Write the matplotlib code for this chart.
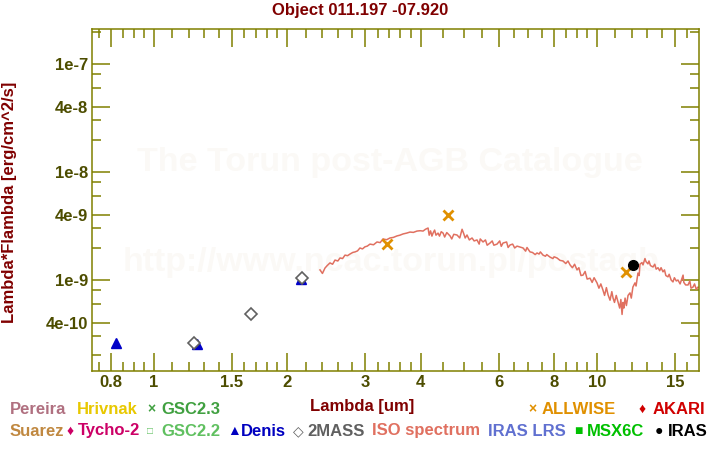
import matplotlib
matplotlib.use("Agg")
import matplotlib.pyplot as plt
from matplotlib.ticker import FixedLocator, FixedFormatter, NullFormatter

plt.rcParams['font.family'] = ['Liberation Sans', 'DejaVu Sans']
plt.rcParams['font.weight'] = 'bold'

# photometry (lambda in um, lambda*F_lambda in erg/cm^2/s)
denis_lam = [0.821, 1.251, 2.147]
denis_flux = [2.63e-10, 2.55e-10, 1.02e-9]
tmass_lam = [1.233, 1.659, 2.158]
tmass_flux = [2.59e-10, 4.81e-10, 1.05e-9]
allwise_lam = [3.363, 4.617, 11.65]
allwise_flux = [2.14e-9, 3.97e-9, 1.18e-9]
iras_lam = [12.08]
iras_flux = [1.37e-9]

# ISO spectrum (flux in units of 1e-9)
iso_lam = [2.370, 2.40, 2.432, 2.46, 2.496, 2.53, 2.562, 2.60, 2.630, 2.665,
           2.699, 2.735, 2.770, 2.81, 2.843, 2.88, 2.917, 2.955, 2.994, 3.03,
           3.073, 3.13, 3.187, 3.24, 3.287, 3.35, 3.409, 3.47, 3.536, 3.59,
           3.649, 3.72, 3.784, 3.85, 3.924, 3.99, 4.049, 4.10, 4.156, 4.18,
           4.21, 4.24, 4.265, 4.30, 4.33, 4.377, 4.41, 4.45, 4.493, 4.53,
           4.58, 4.659, 4.70, 4.75, 4.831, 4.90, 4.959, 5.00, 5.04, 5.088,
           5.15, 5.223, 5.28, 5.360, 5.42, 5.45, 5.530, 5.60, 5.65, 5.735,
           5.80, 5.85, 5.947, 6.03, 6.08, 6.135, 6.25, 6.30, 6.363, 6.45,
           6.52, 6.598, 6.70, 6.808, 6.90, 6.95, 7.060, 7.15, 7.25, 7.321,
           7.40, 7.45, 7.553, 7.65, 7.70, 7.833, 7.95, 8.00, 8.123, 8.25,
           8.381, 8.50, 8.60, 8.692, 8.80, 8.90, 9.014, 9.10, 9.20, 9.299,
           9.40, 9.50, 9.643, 9.75, 9.85, 10.00, 10.10, 10.20, 10.31, 10.40,
           10.50, 10.59, 10.70, 10.80, 10.87, 10.95, 11.05, 11.15, 11.25, 11.32,
           11.39, 11.45, 11.50, 11.57, 11.65, 11.75, 11.87, 11.95, 12.05, 12.18,
           12.25, 12.37, 12.45, 12.50, 12.63, 12.70, 12.83, 12.90, 13.03, 13.10,
           13.20, 13.38, 13.50, 13.60, 13.73, 13.85, 13.95, 14.09, 14.20, 14.30,
           14.46, 14.55, 14.70, 14.84, 14.95, 15.10, 15.23, 15.40, 15.64, 15.70,
           15.85, 16.05, 16.20, 16.30, 16.47, 16.60, 16.75, 16.90, 17.10]
iso_flux = [1.24, 1.15, 1.29, 1.36, 1.44, 1.40, 1.53, 1.50, 1.60, 1.58,
            1.70, 1.68, 1.74, 1.80, 1.82, 1.86, 1.98, 1.94, 2.03, 2.06,
            2.15, 2.12, 2.25, 2.22, 2.40, 2.36, 2.45, 2.48, 2.56, 2.60,
            2.67, 2.72, 2.78, 2.76, 2.84, 2.86, 2.84, 2.95, 3.03, 2.60,
            2.85, 2.55, 2.72, 2.90, 2.60, 2.72, 2.55, 2.80, 2.72, 2.50,
            2.75, 2.56, 2.40, 2.65, 2.61, 2.45, 2.95, 2.70, 2.45, 2.61,
            2.35, 2.45, 2.30, 2.35, 2.15, 2.40, 2.25, 2.35, 2.10, 2.20,
            2.30, 2.10, 2.15, 2.30, 2.05, 2.20, 2.25, 2.00, 2.11, 2.15,
            1.98, 2.06, 2.02, 1.98, 1.85, 2.00, 1.82, 1.80, 1.72, 1.78,
            1.74, 1.82, 1.70, 1.66, 1.72, 1.63, 1.58, 1.64, 1.60, 1.52,
            1.50, 1.42, 1.50, 1.38, 1.30, 1.40, 1.24, 1.30, 1.10, 1.11,
            1.20, 1.02, 1.04, 0.95, 1.05, 0.94, 0.84, 0.92, 0.81, 0.72,
            0.85, 0.73, 0.65, 0.78, 0.68, 0.62, 0.72, 0.63, 0.55, 0.66,
            0.48, 0.62, 0.55, 0.68, 0.58, 0.72, 0.76, 0.68, 0.86, 0.94,
            0.88, 1.16, 1.10, 1.40, 1.45, 1.38, 1.58, 1.48, 1.41, 1.50,
            1.36, 1.32, 1.40, 1.26, 1.30, 1.22, 1.30, 1.19, 1.24, 1.10,
            1.07, 1.13, 1.00, 0.96, 1.05, 0.98, 1.00, 0.92, 1.11, 0.95,
            0.90, 0.90, 0.98, 0.84, 0.86, 0.92, 0.82, 0.86, 0.84]

x_major = [0.8, 1, 1.5, 2, 3, 4, 6, 8, 10, 15]
x_major_labels = ['0.8', '1', '1.5', '2', '3', '4', '6', '8', '10', '15']
x_minor = [0.75, 0.85, 0.9, 0.95, 1.1, 1.2, 1.3, 1.4, 1.6, 1.7, 1.8, 1.9,
           2.2, 2.4, 2.6, 2.8, 3.2, 3.4, 3.6, 3.8, 4.5, 5, 5.5, 6.5, 7, 7.5,
           8.5, 9, 9.5, 11, 12, 13, 14, 16]
y_major = [1e-7, 4e-8, 1e-8, 4e-9, 1e-9, 4e-10]
y_major_labels = ['1e-7', '4e-8', '1e-8', '4e-9', '1e-9', '4e-10']
y_minor = [2e-7, 8e-8, 6e-8, 3e-8, 2e-8, 8e-9, 6e-9, 3e-9, 2e-9,
           8e-10, 6e-10, 3e-10, 2e-10]

olive = '#808000'
tick_text = '#4d4d00'
maroon = '#800000'

fig = plt.figure(figsize=(7.2, 4.5), dpi=100)
ax = fig.add_axes([92 / 720, 1 - 371 / 450, 607 / 720, 342 / 450])
ax.patch.set_alpha(0)

# watermark, behind the axes
fig.text(390 / 720, 1 - 163 / 450, 'The Torun post-AGB Catalogue', color='#fbf9f6',
         fontsize=24.5, ha='center', va='center', zorder=-1)
fig.text(391 / 720, 1 - 263 / 450, 'http://www.ncac.torun.pl/postagb', color='#fbf9f6',
         fontsize=24.5, ha='center', va='center', zorder=-1)

iso_flux_cgs = [f * 1e-9 for f in iso_flux]
ax.plot(iso_lam, iso_flux_cgs, color='#e07060', lw=1.1, zorder=2)
ax.plot(denis_lam, denis_flux, ls='none', marker='^', color='#0000c8', ms=7, zorder=3)
ax.plot(tmass_lam, tmass_flux, ls='none', marker='D', mfc='white', mec='#606060',
        mew=1.2, ms=6, zorder=4)
ax.plot(allwise_lam, allwise_flux, ls='none', marker='x', color='#e09000', ms=7,
        mew=2, zorder=4)
ax.plot(iras_lam, iras_flux, ls='none', marker='o', color='black', ms=7, zorder=4)

ax.set_xscale('log')
ax.set_yscale('log')
ax.set_xlim(0.7246, 16.99)
ax.set_ylim(1.437e-10, 2.11e-7)

ax.xaxis.set_major_locator(FixedLocator(x_major))
ax.xaxis.set_major_formatter(FixedFormatter(x_major_labels))
ax.xaxis.set_minor_locator(FixedLocator(x_minor))
ax.xaxis.set_minor_formatter(NullFormatter())
ax.yaxis.set_major_locator(FixedLocator(y_major))
ax.yaxis.set_major_formatter(FixedFormatter(y_major_labels))
ax.yaxis.set_minor_locator(FixedLocator(y_minor))
ax.yaxis.set_minor_formatter(NullFormatter())

ax.tick_params(which='both', direction='in', top=True, right=True, color=olive,
               width=1.1, labelsize=12, labelcolor=tick_text, pad=3)
ax.tick_params(which='major', length=13)
ax.tick_params(which='minor', length=6.5)
for s in ax.spines.values():
    s.set_color(olive)
    s.set_linewidth(1.1)

fig.text(360 / 720, 1 - 11 / 450, 'Object 011.197 -07.920', color=maroon,
         fontsize=12, ha='center', va='center')
fig.text(362 / 720, 1 - 406 / 450, 'Lambda [um]', color=maroon,
         fontsize=12, ha='center', va='center')
fig.text(10 / 720, 1 - 202 / 450, 'Lambda*Flambda [erg/cm^2/s]', color=maroon,
         fontsize=12, ha='center', va='center', rotation=90)

# catalogue legend at the bottom: (x of glyph, glyph, glyph size, x of text, text, colour, row y)
legend = [
    (None, None, 0, 10, 'Pereira', '#b07080', 409),
    (None, None, 0, 77, 'Hrivnak', '#e8c800', 409),
    (147, '×', 10, 161, 'GSC2.3', '#40a040', 409),
    (528, '×', 10, 542, 'ALLWISE', '#e09000', 409),
    (639, '♦', 10, 653, 'AKARI', '#d00000', 409),
    (None, None, 0, 10, 'Suarez', '#c08840', 431),
    (67, '♦', 10, 78, 'Tycho-2', '#cc0066', 431),
    (147, '□', 7, 161, 'GSC2.2', '#60c060', 431),
    (227, '▲', 10, 241, 'Denis', '#0000c0', 431),
    (293, '◇', 10, 307, '2MASS', '#606060', 431),
    (None, None, 0, 372, 'ISO spectrum', '#e07060', 431),
    (None, None, 0, 488, 'IRAS LRS', '#6070d0', 431),
    (574, '■', 10, 587, 'MSX6C', '#00c000', 431),
    (655, '●', 10, 668, 'IRAS', '#000000', 431),
]
for gx, g, gs, tx, t, c, ty in legend:
    if g is not None:
        fig.text(gx / 720, 1 - ty / 450, g, color=c, fontsize=gs,
                 ha='left', va='center')
    fig.text(tx / 720, 1 - ty / 450, t, color=c, fontsize=12,
             ha='left', va='center')

fig.savefig('out.png', dpi=100)
